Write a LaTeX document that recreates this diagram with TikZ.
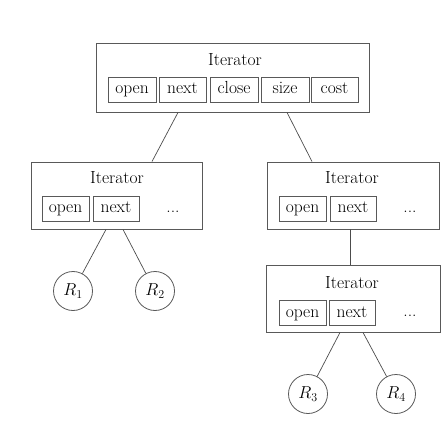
\documentclass[tikz,border=0pt]{standalone}
\begin{document}
\begin{tikzpicture}[x=1pt,y=-1pt,
  every node/.style={font=\fontsize{17.5}{20}\selectfont},
  itbox/.style={draw=black!65,line width=0.9pt,minimum height=67pt,inner sep=0pt},
  meth/.style={draw=black!65,line width=0.8pt,minimum height=25pt,inner sep=0pt,text height=11pt,text depth=3pt},
  title/.style={inner sep=0pt},
  rel/.style={draw=black!65,line width=0.8pt,circle,minimum size=39pt,inner sep=0pt},
  edge/.style={draw=black!70,line width=0.7pt}]
\useasboundingbox (0,0) rectangle (446,435);
% top iterator
\node[itbox,minimum width=273pt,minimum height=69pt] (top) at (232.5,77.5) {};
\node[title] (ttop) at (235,60) {Iterator};
\node[meth,minimum width=48pt] (m1) at (132,90) {open};
\node[meth,minimum width=47pt] (m2) at (182.5,90) {next};
\node[meth,minimum width=48pt] (m3) at (234,90) {close};
\node[meth,minimum width=48pt] (m4) at (285,90) {size};
\node[meth,minimum width=47pt] (m5) at (334.5,90) {cost};
% left iterator
\node[itbox,minimum width=171pt] (left) at (116.5,195.5) {};
\node[title] (tleft) at (117,178) {Iterator};
\node[meth,minimum width=47pt] (l1) at (65.5,209) {open};
\node[meth,minimum width=46pt] (l2) at (116,209) {next};
\node (ld) at (173,212) {...};
% right iterator
\node[itbox,minimum width=172pt] (right) at (353,195.5) {};
\node[title] (tright) at (352,178) {Iterator};
\node[meth,minimum width=47pt] (r1) at (302.5,209) {open};
\node[meth,minimum width=46pt] (r2) at (353,209) {next};
\node (rd) at (410,212) {...};
% third iterator
\node[itbox,minimum width=174pt] (third) at (353,298.5) {};
\node[title] (tthird) at (352,283) {Iterator};
\node[meth,minimum width=47pt] (s1) at (302.5,313) {open};
\node[meth,minimum width=46pt] (s2) at (352,313) {next};
\node (sd) at (410,316) {...};
% relations
\node[rel] (R1) at (73,291) {$R_1$};
\node[rel] (R2) at (155,291) {$R_2$};
\node[rel] (R3) at (308,394) {$R_3$};
\node[rel] (R4) at (396,394) {$R_4$};
% connectors
\draw[edge] ([xshift=-54.5pt]top.south) -- ([xshift=35.5pt]left.north);
\draw[edge] ([xshift=54.5pt]top.south) -- ([xshift=-41pt]right.north);
\draw[edge] ([xshift=-10.5pt]left.south) -- (R1);
\draw[edge] ([xshift=6.5pt]left.south) -- (R2);
\draw[edge] ([xshift=-3pt]right.south) -- ([xshift=-3pt]third.north);
\draw[edge] ([xshift=-13pt]third.south) -- (R3);
\draw[edge] ([xshift=10pt]third.south) -- (R4);
\end{tikzpicture}
\end{document}
